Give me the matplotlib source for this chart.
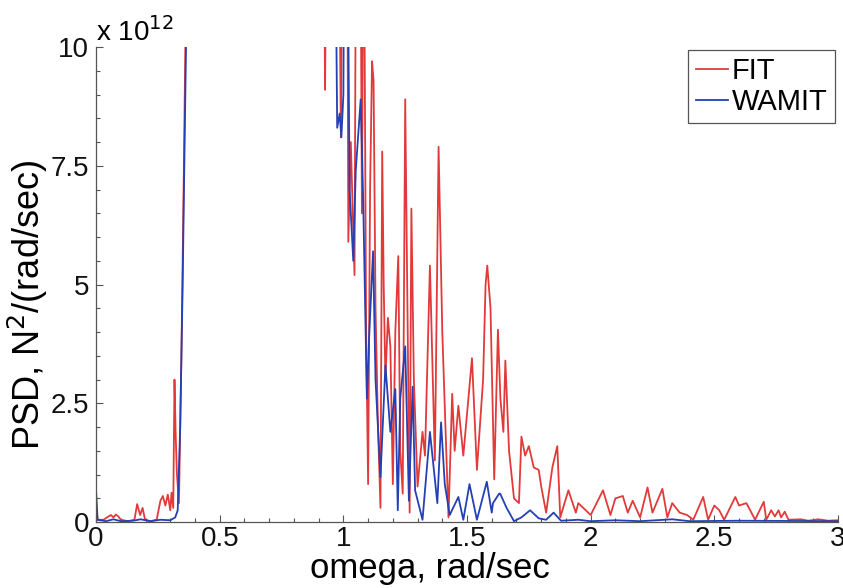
import matplotlib
matplotlib.use('Agg')
import matplotlib.pyplot as plt
from matplotlib.ticker import MultipleLocator

plt.rcParams['font.family'] = ['Liberation Sans', 'DejaVu Sans']

# PSD values in units of 1e12 N^2/(rad/sec); values > 10 run off the top of the axes
fit_omega = [0.000, 0.006, 0.03, 0.05, 0.06, 0.07, 0.08, 0.09, 0.10, 0.13, 0.155, 0.166, 0.178, 0.188,
             0.198, 0.22, 0.245, 0.26, 0.27, 0.28, 0.29, 0.30, 0.305, 0.312, 0.317, 0.322, 0.327, 0.335,
             0.345, 0.355, 0.362, 0.37, 0.90, 0.922, 0.926, 0.930, 0.98, 0.99, 0.997, 1.015, 1.02, 1.03,
             1.045, 1.052, 1.068, 1.075, 1.082, 1.092, 1.100, 1.108, 1.116, 1.122, 1.13, 1.14, 1.15,
             1.157, 1.163, 1.17, 1.18, 1.19, 1.20, 1.21, 1.222, 1.23, 1.24, 1.25, 1.26, 1.268, 1.275,
             1.285, 1.30, 1.32, 1.33, 1.35, 1.37, 1.385, 1.40, 1.425, 1.44, 1.45, 1.465, 1.485, 1.52,
             1.54, 1.565, 1.575, 1.582, 1.595, 1.61, 1.625, 1.635, 1.647, 1.655, 1.67, 1.69, 1.71, 1.72,
             1.735, 1.75, 1.77, 1.79, 1.80, 1.82, 1.845, 1.865, 1.877, 1.91, 1.94, 1.95, 1.97, 2.00,
             2.05, 2.08, 2.10, 2.13, 2.15, 2.17, 2.20, 2.23, 2.25, 2.29, 2.31, 2.33, 2.36, 2.39, 2.415,
             2.455, 2.475, 2.50, 2.52, 2.54, 2.585, 2.60, 2.63, 2.665, 2.70, 2.71, 2.73, 2.745, 2.76,
             2.77, 2.785, 2.80, 2.85, 2.88, 2.92, 2.96, 3.00]
fit_psd = [0.35, 0.05, 0.05, 0.12, 0.15, 0.10, 0.16, 0.12, 0.05, 0.02, 0.05, 0.38, 0.15, 0.30,
           0.05, 0.02, 0.05, 0.45, 0.55, 0.35, 0.58, 0.25, 0.62, 0.3, 3.0, 1.8, 1.0, 0.4,
           3.5, 7.5, 10.5, 14, 14, 12, 9.1, 12, 14, 8.1, 14, 14, 5.9, 8.0,
           5.2, 14, 14, 6.5, 14, 4.0, 0.8, 7.0, 9.7, 9.3, 4.5, 2.0, 0.3,
           7.8, 5.0, 3.0, 4.3, 3.7, 0.8, 4.0, 5.6, 1.5, 0.6, 8.9, 4.0, 0.2, 6.6,
           3.0, 0.75, 1.9, 1.4, 5.4, 1.3, 7.9, 4.0, 0.1, 2.7, 1.5, 2.45, 1.4, 3.45,
           1.1, 3.0, 5.0, 5.4, 4.5, 0.9, 4.05, 2.6, 1.9, 3.4, 1.5, 0.5, 0.4, 1.8,
           1.4, 1.6, 1.15, 1.1, 0.75, 0.2, 1.15, 1.6, 0.1, 0.67, 0.2, 0.4, 0.3, 0.15,
           0.67, 0.15, 0.5, 0.55, 0.2, 0.45, 0.1, 0.73, 0.2, 0.7, 0.1, 0.4, 0.2, 0.15, 0.05,
           0.53, 0.05, 0.35, 0.25, 0.05, 0.53, 0.35, 0.4, 0.05, 0.43, 0.05, 0.25, 0.12, 0.25,
           0.1, 0.22, 0.05, 0.06, 0.03, 0.06, 0.03, 0.04]

wamit_omega = [0.000, 0.006, 0.04, 0.07, 0.10, 0.15, 0.18, 0.22, 0.26, 0.30, 0.32, 0.33, 0.34, 0.35,
               0.358, 0.365, 0.375, 0.965, 0.975, 0.985, 0.992, 1.0, 1.005, 1.015, 1.025, 1.04, 1.05,
               1.07, 1.08, 1.095, 1.105, 1.12, 1.13, 1.15, 1.17, 1.19, 1.21, 1.22, 1.23, 1.25, 1.265,
               1.28, 1.29, 1.32, 1.35, 1.38, 1.395, 1.41, 1.43, 1.465, 1.485, 1.51, 1.54, 1.58, 1.60,
               1.605, 1.63, 1.634, 1.66, 1.69, 1.72, 1.755, 1.79, 1.82, 1.85, 1.88, 1.95, 2.0, 2.1,
               2.2, 2.33, 2.4, 2.6, 3.0]
wamit_psd = [0.65, 0.05, 0.02, 0.06, 0.02, 0.03, 0.06, 0.02, 0.05, 0.04, 0.1, 0.25, 2.0, 5.0,
             8.0, 10.5, 14, 14, 8.3, 8.6, 8.1, 9.0, 14, 14, 7.0, 5.5, 7.4,
             8.9, 6.8, 2.6, 4.0, 5.7, 3.0, 0.95, 3.3, 1.9, 2.8, 0.25, 2.6, 3.7, 0.45,
             2.85, 0.67, 0.05, 1.9, 0.4, 2.1, 0.8, 0.15, 0.53, 0.05, 0.8, 0.05, 0.85, 0.2,
             0.4, 0.6, 0.6, 0.3, 0.02, 0.1, 0.25, 0.08, 0.05, 0.2, 0.03, 0.05, 0.02, 0.04,
             0.02, 0.06, 0.02, 0.03, 0.02]

x_ticks = [0, 0.5, 1, 1.5, 2, 2.5, 3]
x_tick_labels = ['0', '0.5', '1', '1.5', '2', '2.5', '3']
y_ticks = [0, 2.5, 5, 7.5, 10]
y_tick_labels = ['0', '2.5', '5', '7.5', '10']

fig = plt.figure(figsize=(8.43, 5.88), dpi=100)
ax = fig.add_axes([0.114, 0.112, 0.880, 0.808])

ax.plot(fit_omega, fit_psd, color='#e23a3a', lw=1.3, label='FIT')
ax.plot(wamit_omega, wamit_psd, color='#2340b5', lw=1.3, label='WAMIT')

ax.set_xlim(0, 3)
ax.set_ylim(0, 10)
ax.set_xticks(x_ticks)
ax.set_xticklabels(x_tick_labels)
ax.set_yticks(y_ticks)
ax.set_yticklabels(y_tick_labels)
ax.xaxis.set_minor_locator(MultipleLocator(0.1))
ax.yaxis.set_minor_locator(MultipleLocator(0.5))
ax.tick_params(which='both', direction='in', labelsize=20, colors='#555555', labelcolor='#111111')
ax.tick_params(which='major', length=5, width=0.8)
ax.tick_params(which='minor', length=3, width=0.8)
ax.tick_params(axis='x', pad=3)
ax.tick_params(axis='y', pad=5)

for side in ['top', 'right']:
    ax.spines[side].set_visible(False)
for side in ['left', 'bottom']:
    ax.spines[side].set_color('#555555')
    ax.spines[side].set_linewidth(0.9)

# axis labels placed by hand (the reference's x label sits left of centre)
ax.text(0.45, -0.118, 'omega, rad/sec', transform=ax.transAxes, fontsize=25,
        ha='center', va='baseline')
ax.text(-0.062, 0.457, 'PSD, N$^2$/(rad/sec)', transform=ax.transAxes, fontsize=26,
        ha='right', va='center', rotation=90, rotation_mode='default')
ax.text(0.0, 1.0, 'x 10$^{12}$', transform=ax.transAxes, fontsize=20, ha='left', va='bottom')

leg = ax.legend(loc='upper right', bbox_to_anchor=(1.0, 1.0), fontsize=21, handlelength=1.1,
                handletextpad=0.15, borderpad=0.25, labelspacing=0.1, fancybox=False,
                framealpha=1, borderaxespad=0.1)
leg.get_frame().set_edgecolor('#555555')
leg.get_frame().set_linewidth(0.9)

fig.savefig('out.png', dpi=100)
